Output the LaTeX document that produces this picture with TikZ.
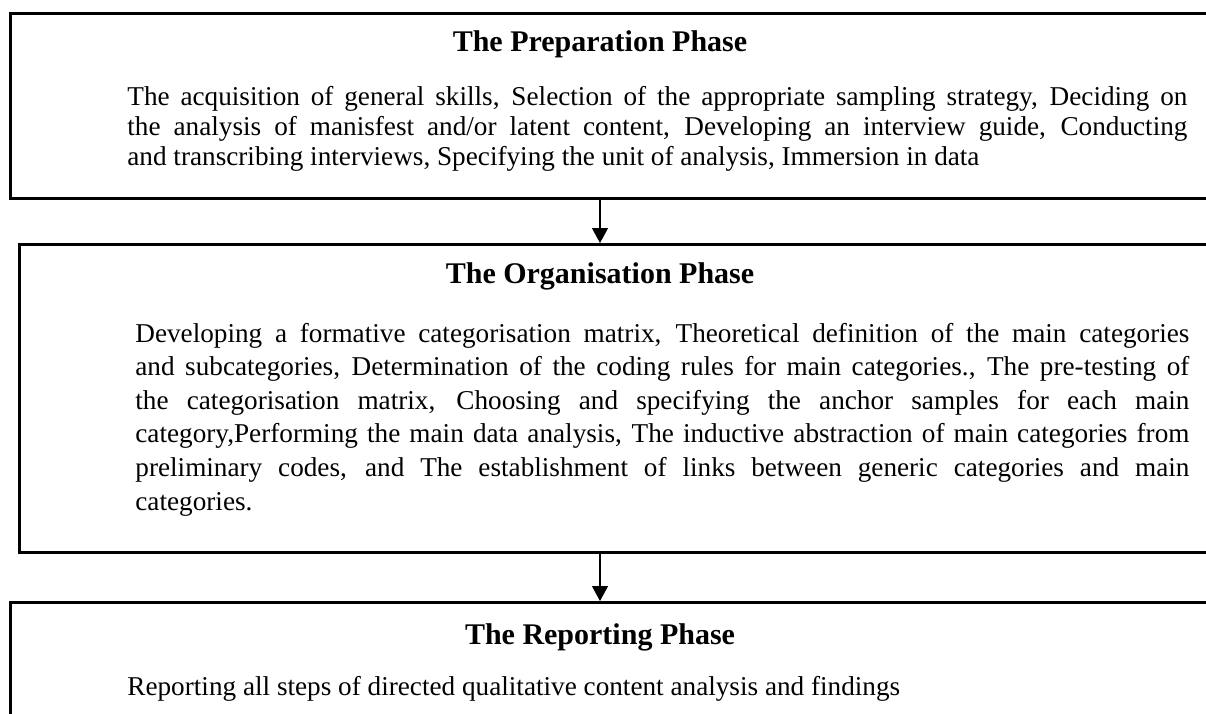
\documentclass[tikz,border=0pt]{standalone}
\usepackage{fontspec}
\setmainfont{Liberation Serif}
\usetikzlibrary{arrows.meta, positioning}
\tikzset{
  phasebox/.style={
    draw=black,
    line width=1.5pt,
    anchor=north west,
    inner sep=0pt,
    minimum width=604pt
  },
  phasetitle/.style={
    font=\fontsize{15}{17}\selectfont\bfseries,
    anchor=base,
    inner sep=0pt
  },
  phasebody/.style={
    font=\fontsize{13.6}{15}\selectfont,
    align=justify,
    anchor=base west,
    inner sep=0pt,
    text width=530pt
  },
  arrow/.style={-{Triangle[length=7.5pt, width=8pt]}, line width=0.6pt}
}

\begin{document}
\begin{tikzpicture}[x=0.5pt, y=-0.5pt]
\useasboundingbox (0,0) rectangle (1206,713);

\node[phasebox, minimum height=92.5pt] (prep) at (9,12) {};
\node[phasetitle] (preptitle) at (600,51) {The Preparation Phase};
\node[phasebody] (prepbody) at (127,105)
{The acquisition of general skills, Selection of the appropriate sampling strategy, Deciding on\linebreak
the analysis of manisfest and/or latent content, Developing an interview guide, Conducting\linebreak
and transcribing interviews, Specifying the unit of analysis, Immersion in data};

\node[phasebox, minimum height=154pt] (org) at (18,243) {};
\node[phasetitle] (orgtitle) at (600,283) {The Organisation Phase};
\node[phasebody, text width=527pt, font=\fontsize{13.6}{16.8}\selectfont] (orgbody) at (135,342)
{Developing a formative categorisation matrix, Theoretical definition of the main categories\linebreak
and subcategories, Determination of the coding rules for main categories., The pre-testing of\linebreak
the categorisation matrix, Choosing and specifying the anchor samples for each main\linebreak
category,Performing the main data analysis, The inductive abstraction of main categories from\linebreak
preliminary codes, and The establishment of links between generic categories and main\linebreak
categories.};

\node[phasebox, minimum height=70pt] (rep) at (9,601) {};
\node[phasetitle] (reptitle) at (600,644) {The Reporting Phase};
\node[phasebody] (repbody) at (127,695)
{Reporting all steps of directed qualitative content analysis and findings};

\draw[arrow] (prep.south -| preptitle.base) -- (org.north -| preptitle.base);
\draw[arrow] (org.south -| orgtitle.base) -- (rep.north -| orgtitle.base);

\end{tikzpicture}
\end{document}
